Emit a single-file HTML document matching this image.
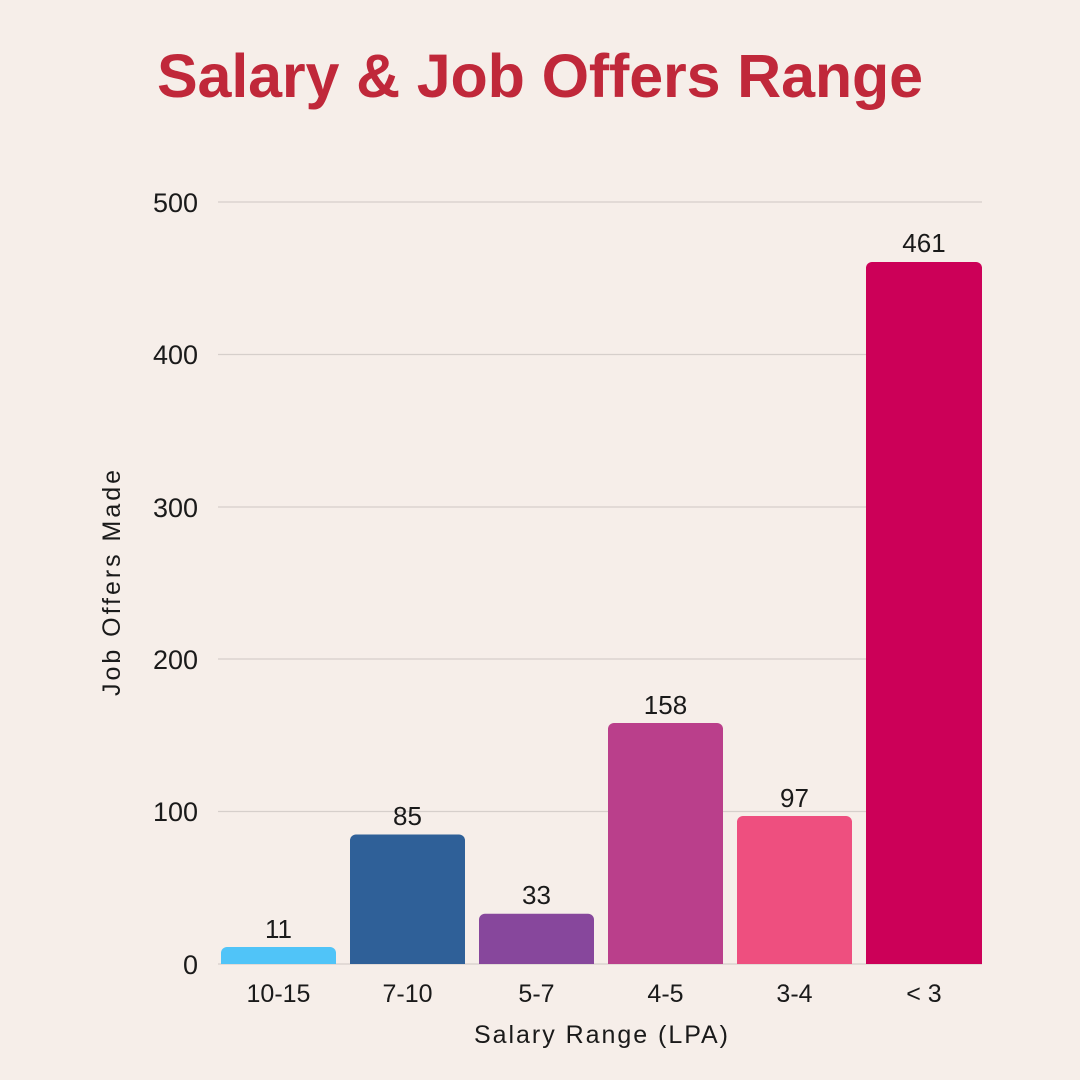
<!DOCTYPE html>
<html><head><meta charset="utf-8"><style>
html,body{margin:0;padding:0;background:#f6eee9;}
svg{display:block;}
text{font-family:"Liberation Sans",sans-serif;fill:#1a1a1a;}
</style></head><body>
<svg width="1080" height="1080" viewBox="0 0 1080 1080">
<rect width="1080" height="1080" fill="#f6eee9"/>
<text x="540" y="97" text-anchor="middle" font-size="61" font-weight="bold" style="fill:#c0283a" textLength="766" lengthAdjust="spacing">Salary &amp; Job Offers Range</text>
<g stroke="#d6cfcb" stroke-width="1.2">
<line x1="218" y1="202" x2="982" y2="202"/>
<line x1="218" y1="354.5" x2="982" y2="354.5"/>
<line x1="218" y1="507" x2="982" y2="507"/>
<line x1="218" y1="659" x2="982" y2="659"/>
<line x1="218" y1="811.5" x2="982" y2="811.5"/>
<line x1="218" y1="964" x2="982" y2="964"/>
</g>
<g font-size="27" text-anchor="end">
<text x="198" y="212">500</text>
<text x="198" y="364">400</text>
<text x="198" y="517">300</text>
<text x="198" y="669">200</text>
<text x="198" y="821">100</text>
<text x="198" y="974">0</text>
</g>
<text transform="translate(120,583) rotate(-90)" text-anchor="middle" font-size="25" textLength="226" lengthAdjust="spacing">Job Offers Made</text>
<g>
<path d="M221,964 V953 a6,6 0 0 1 6,-6 H330 a6,6 0 0 1 6,6 V964Z" fill="#50c4f8"/>
<path d="M350,964 V840.5 a6,6 0 0 1 6,-6 H459 a6,6 0 0 1 6,6 V964Z" fill="#2f6098"/>
<path d="M479,964 V919.7 a6,6 0 0 1 6,-6 H588 a6,6 0 0 1 6,6 V964Z" fill="#87479c"/>
<path d="M608,964 V729 a6,6 0 0 1 6,-6 H717 a6,6 0 0 1 6,6 V964Z" fill="#ba3f8b"/>
<path d="M737,964 V822 a6,6 0 0 1 6,-6 H846 a6,6 0 0 1 6,6 V964Z" fill="#ee4f7f"/>
<path d="M866,964 V268 a6,6 0 0 1 6,-6 H976 a6,6 0 0 1 6,6 V964Z" fill="#cc0058"/>
</g>
<g font-size="26" text-anchor="middle">
<text x="278.5" y="938">11</text>
<text x="407.5" y="825">85</text>
<text x="536.5" y="904">33</text>
<text x="665.5" y="714">158</text>
<text x="794.5" y="807">97</text>
<text x="924" y="252">461</text>
</g>
<g font-size="25" text-anchor="middle">
<text x="278.5" y="1002">10-15</text>
<text x="407.5" y="1002">7-10</text>
<text x="536.5" y="1002">5-7</text>
<text x="665.5" y="1002">4-5</text>
<text x="794.5" y="1002">3-4</text>
<text x="924" y="1002">&lt; 3</text>
</g>
<text x="601" y="1043" text-anchor="middle" font-size="25" textLength="254" lengthAdjust="spacing">Salary Range (LPA)</text>
</svg>
</body></html>
